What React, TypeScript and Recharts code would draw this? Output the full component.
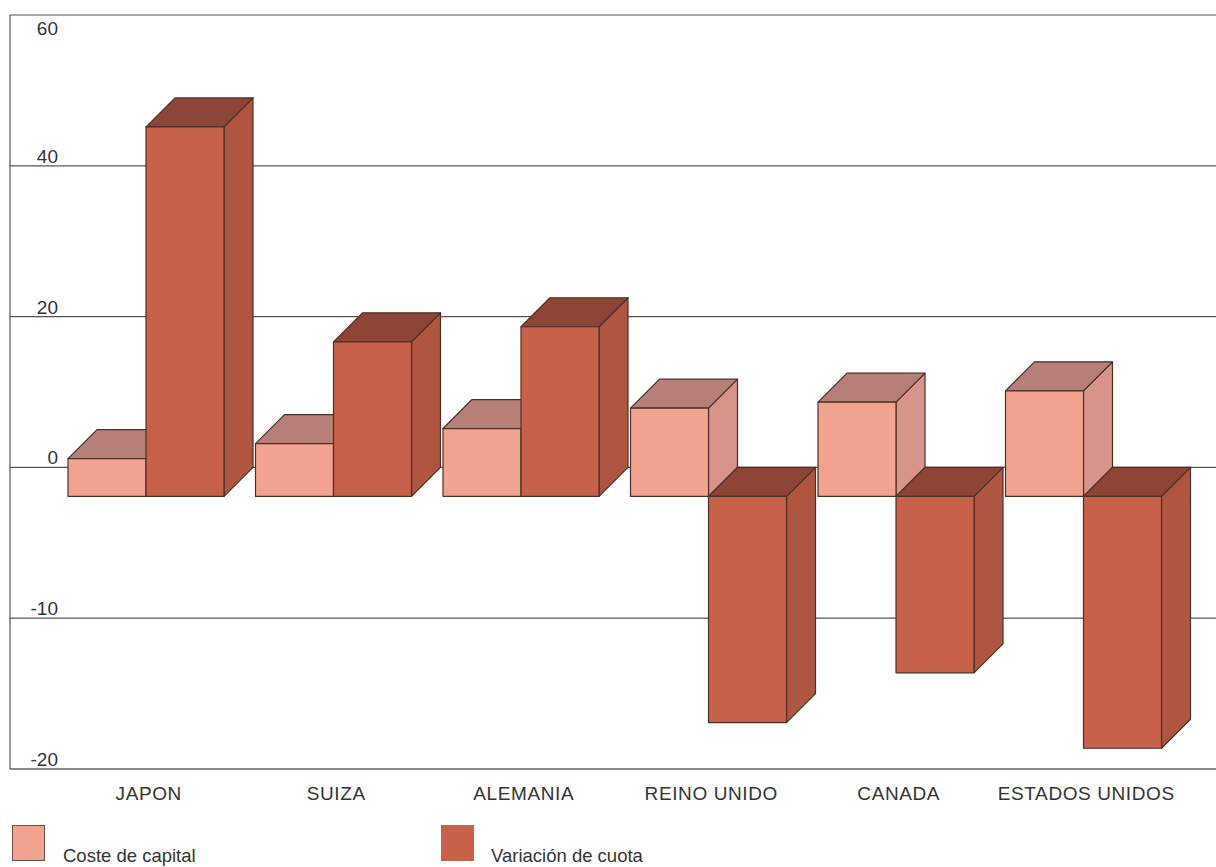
import React from "react";
import { BarChart, Bar, XAxis, YAxis, CartesianGrid } from "recharts";

const CATEGORIES = ["JAPON", "SUIZA", "ALEMANIA", "REINO UNIDO", "CANADA", "ESTADOS UNIDOS"];
const COSTE_CAPITAL = [5, 7, 9, 11.7, 12.5, 14];
const VARIACION_CUOTA = [49, 20.5, 22.5, -15, -11.7, -16.7];
const Y_TICKS = [60, 40, 20, 0, -10, -20];
const SERIES_NAMES = ["Coste de capital", "Variación de cuota"];

// the printed axis is piecewise: 20 per step above zero, 10 per step below
const toAxis = (v: number) => (v >= 0 ? v / 20 : v / 10);

const FONT = '"Liberation Sans", Arial, sans-serif';
const TEXT = "#333";
const DEPTH = 29;
const EDGE = "#4a3028";

type Faces = { front: string; top: string; side: string };
const PINK: Faces = { front: "#F2A390", top: "#B67F77", side: "#D8948A" };
const RED: Faces = { front: "#C8614A", top: "#8F4536", side: "#B0553F" };

const data = CATEGORIES.map((name, i) => ({
  name,
  coste: toAxis(COSTE_CAPITAL[i]),
  variacion: toAxis(VARIACION_CUOTA[i]),
}));

function Box3D(props: any) {
  const { x, y, width, height, faces } = props;
  if (x == null || y == null) return null;
  const top = Math.min(y, y + height);
  const h = Math.abs(height);
  const w = width;
  const d = DEPTH;
  const topPts = `${x - d},${top + d} ${x + w - d},${top + d} ${x + w},${top} ${x},${top}`;
  const sidePts = `${x + w - d},${top + d} ${x + w},${top} ${x + w},${top + h} ${x + w - d},${top + h + d}`;
  return (
    <g stroke={EDGE} strokeWidth={1.2} strokeLinejoin="round">
      <polygon points={sidePts} fill={faces.side} />
      <polygon points={topPts} fill={faces.top} />
      <rect x={x - d} y={top + d} width={w} height={h} fill={faces.front} />
    </g>
  );
}

function YTick(props: any) {
  const v = props.payload?.value as number;
  const label = Y_TICKS.find((t) => toAxis(t) === v);
  const isTop = v === toAxis(Y_TICKS[0]);
  return (
    <text x={58} y={isTop ? props.y + 20 : props.y - 3} textAnchor="end" fontSize={19} fill={TEXT} fontFamily={FONT}>
      {label}
    </text>
  );
}

function XTick(props: any) {
  return (
    <text x={props.x - 26} y={800} textAnchor="middle" fontSize={19} letterSpacing={0.6} fill={TEXT} fontFamily={FONT}>
      {props.payload?.value}
    </text>
  );
}

const legendText: React.CSSProperties = {
  position: "absolute",
  top: 845,
  fontSize: 18.5,
  color: TEXT,
  lineHeight: "22px",
  whiteSpace: "nowrap",
};

export default function App() {
  return (
    <div style={{ position: "absolute", left: 0, top: 0, width: 1216, height: 867, background: "#fff", fontFamily: FONT }}>
      <BarChart
        width={1216}
        height={867}
        data={data}
        margin={{ top: 15, right: 0, left: 9, bottom: 68 }}
        barGap={0}
      >
        <CartesianGrid vertical={false} stroke="#555" strokeWidth={1.2} />
        <XAxis
          dataKey="name"
          height={30}
          padding={{ left: 71, right: 10 }}
          tickLine={false}
          axisLine={{ stroke: "#8a8a8a", strokeWidth: 2 }}
          tick={XTick}
          interval={0}
        />
        <YAxis
          type="number"
          width={1}
          domain={[toAxis(-20), toAxis(60)]}
          ticks={Y_TICKS.map(toAxis)}
          tickLine={false}
          axisLine={{ stroke: "#555", strokeWidth: 1.2 }}
          tick={YTick}
          interval={0}
        />
        <Bar
          dataKey="coste"
          name={SERIES_NAMES[0]}
          barSize={78}
          isAnimationActive={false}
          shape={(p: any) => <Box3D {...p} faces={PINK} />}
        />
        <Bar
          dataKey="variacion"
          name={SERIES_NAMES[1]}
          barSize={78}
          isAnimationActive={false}
          shape={(p: any) => <Box3D {...p} faces={RED} />}
        />
      </BarChart>
      <div style={{ position: "absolute", left: 12, top: 825, width: 33, height: 36, background: PINK.front, border: "1px solid #6b5048", boxSizing: "border-box" }} />
      <div style={{ ...legendText, left: 63 }}>{SERIES_NAMES[0]}</div>
      <div style={{ position: "absolute", left: 441, top: 825, width: 33, height: 36, background: RED.front }} />
      <div style={{ ...legendText, left: 491 }}>{SERIES_NAMES[1]}</div>
    </div>
  );
}
